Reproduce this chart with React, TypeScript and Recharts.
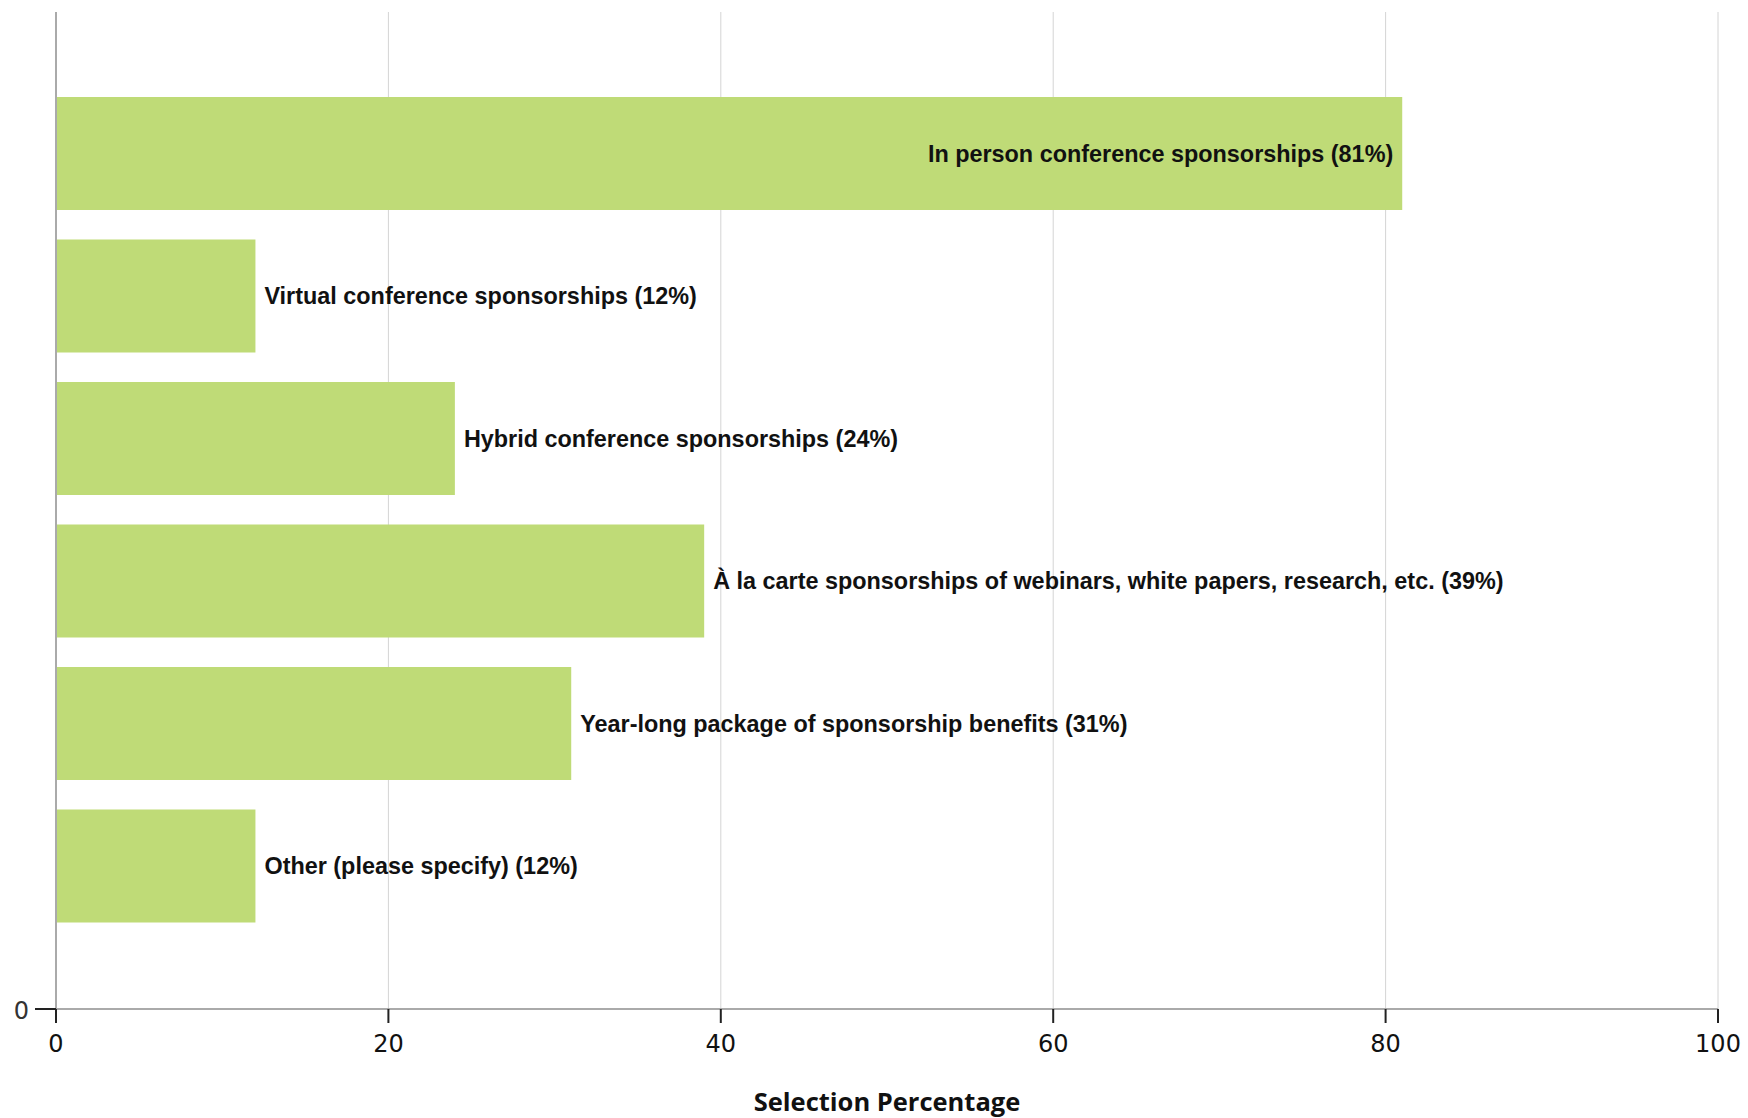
import React from "react"
import { Bar, BarChart, CartesianGrid, LabelList, XAxis, YAxis } from "recharts"

const categories = [
  "In person conference sponsorships",
  "Virtual conference sponsorships",
  "Hybrid conference sponsorships",
  "À la carte sponsorships of webinars, white papers, research, etc.",
  "Year-long package of sponsorship benefits",
  "Other (please specify)",
]

const percentages = [81, 12, 24, 39, 31, 12]

const xTicks = [0, 20, 40, 60, 80, 100]

const data = categories.map((name, i) => ({ name, value: percentages[i] }))

const tickFont = { fontFamily: "DejaVu Sans", fontSize: 24, fill: "#111" }

// long bars get their label inside, short ones just past the end
function BarLabel(props: any) {
  const { x, y, width, height, value, index } = props
  const text = `${categories[index]} (${value}%)`
  const inside = value > 60
  const tx = inside ? x + width - 9 : x + width + 9
  return (
    <text
      x={tx}
      y={y + height / 2}
      dominantBaseline="central"
      textAnchor={inside ? "end" : "start"}
      fontFamily="Liberation Sans"
      fontWeight="bold"
      fontSize={23.4}
      fill="#111"
    >
      {text}
    </text>
  )
}

// the lone "0" tick at the foot of the category axis
function ZeroTick(props: any) {
  const { x, y, width, height } = props.viewBox
  const right = x + width
  const bottom = y + height
  return (
    <g>
      <line x1={right - 21} x2={right} y1={bottom} y2={bottom} stroke="#222" strokeWidth={2} />
      <text
        x={right - 27}
        y={bottom + 2}
        textAnchor="end"
        dominantBaseline="central"
        fontFamily="DejaVu Sans"
        fontSize={24}
        fill="#333"
      >
        0
      </text>
    </g>
  )
}

export default function App() {
  return (
    <div style={{ position: "absolute", left: 0, top: 0, width: 1748, height: 1118, background: "#fff" }}>
      <BarChart
        width={1748}
        height={1118}
        data={data}
        layout="vertical"
        barCategoryGap={15}
        margin={{ top: 12, right: 30, left: 0, bottom: 0 }}
      >
        <CartesianGrid horizontal={false} stroke="#d4d4d4" />
        <XAxis
          type="number"
          domain={[0, 100]}
          ticks={xTicks}
          height={109}
          tickSize={14}
          tickMargin={12}
          tick={tickFont}
          tickLine={{ stroke: "#222", strokeWidth: 2 }}
          axisLine={{ stroke: "#aaa", strokeWidth: 2 }}
          label={{
            value: "Selection Percentage",
            position: "insideBottom",
            offset: 7,
            style: { fontFamily: "Open Sans", fontWeight: 700, fontSize: 25.5, fill: "#111" },
          }}
        />
        <YAxis
          type="category"
          dataKey="name"
          width={56}
          tick={false}
          tickLine={false}
          axisLine={{ stroke: "#aaa", strokeWidth: 2 }}
          padding={{ top: 70, bottom: 72 }}
          label={{ content: ZeroTick }}
        />
        <Bar dataKey="value" fill="#bfdb77" isAnimationActive={false}>
          <LabelList dataKey="value" content={BarLabel} />
        </Bar>
      </BarChart>
    </div>
  )
}
